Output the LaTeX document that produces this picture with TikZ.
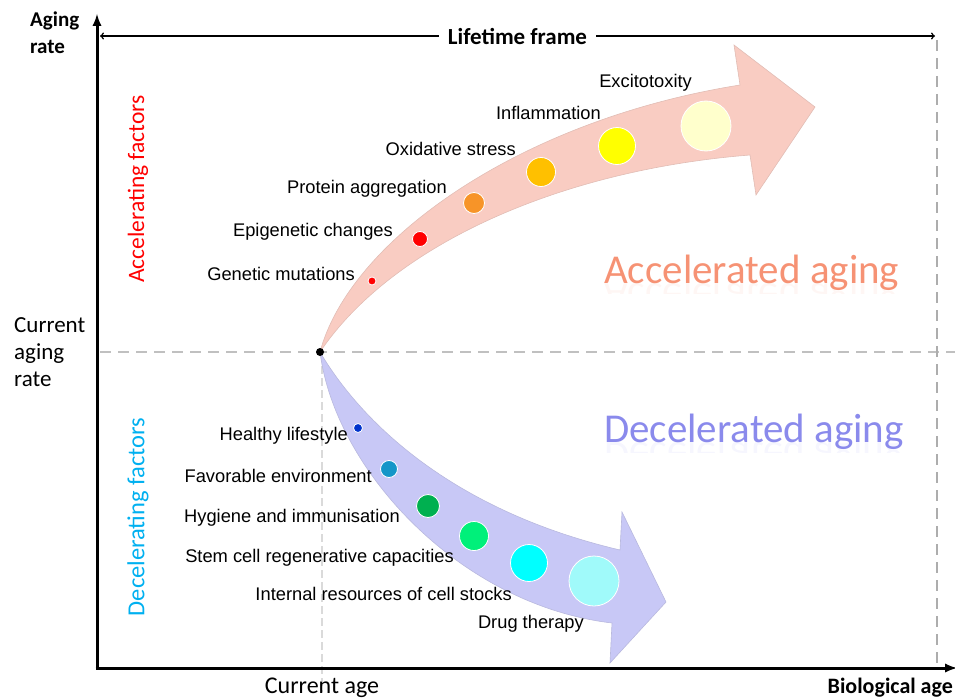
\documentclass[tikz,border=0pt]{standalone}
\usepackage{fontspec}
\setmainfont{Liberation Sans}
\newfontfamily\calib{Carlito}
\usetikzlibrary{arrows,%
                positioning}

\definecolor{accpink}{RGB}{249,204,194}
\definecolor{decblue}{RGB}{200,200,246}
\definecolor{acctext}{RGB}{246,146,116}
\definecolor{dectext}{RGB}{138,138,236}
\definecolor{guidegray}{RGB}{192,192,192}
\definecolor{lightgray}{RGB}{218,218,218}
\definecolor{officeblue}{RGB}{0,176,240}

\tikzset{
  factor/.style={font=\fontsize{18.3}{20}\selectfont, inner sep=0pt, anchor=east},
  dot/.style={circle, draw=white, line width=.8pt, inner sep=0pt},
  axis/.style={line width=3pt, -latex},
  guide/.style={guidegray, line width=2.5pt, dash pattern=on 11pt off 7pt},
  axislabel/.style={font=\calib\fontsize{23}{27}\selectfont, inner sep=0pt},
  sidelabel/.style={inner sep=0pt, rotate=90, font=\calib\fontsize{23.5}{25}\selectfont},
  bigword/.style={font=\calib\fontsize{41}{45}\selectfont, inner sep=0pt, anchor=base west},
}

\begin{document}
\begin{tikzpicture}[x=1pt,y=-1pt]
      \useasboundingbox (0,0) rectangle (955,698);

      \coordinate (corner) at (97,668);
      \coordinate (ytop) at (97,14);
      \coordinate (xend) at (957,668);
      \coordinate (now) at (320,352);

      % guide lines
      \draw[guide] (100,352) -- (955,352);
      \draw[guide, color=guidegray!90!black] (937,40) -- (937,668);
      \draw[lightgray, line width=2pt, dash pattern=on 8pt off 4pt] (322,354) -- (322,692);

      % accelerating arrow
      \filldraw[fill=accpink, draw=accpink!80!gray, line width=.6pt]
        (now) .. controls (350,240) and (520,120) .. (740,85)
        -- (734,45) -- (815,107) -- (756,195) -- (750,155)
        .. controls (560,170) and (392,245) .. (now) -- cycle;

      % decelerating arrow
      \filldraw[fill=decblue, draw=decblue!80!gray, line width=.6pt]
        (now) .. controls (360,420) and (450,510) .. (620,550)
        -- (622,512) -- (666,602) -- (610,663) -- (612,623)
        .. controls (460,605) and (335,470) .. (now) -- cycle;

      % factors that speed aging up
      \node[dot, fill=red, minimum size=8pt] (gen) at (372,281) {};
      \node[dot, fill=red, minimum size=15pt] (epi) at (420,239) {};
      \node[dot, fill={rgb,255:red,247;green,148;blue,40}, minimum size=21pt] (prot) at (474,203) {};
      \node[dot, fill={rgb,255:red,255;green,192;blue,0}, minimum size=29pt] (oxi) at (541,172) {};
      \node[dot, fill={rgb,255:red,255;green,255;blue,0}, minimum size=37pt] (infl) at (617,146) {};
      \node[dot, fill={rgb,255:red,255;green,255;blue,204}, minimum size=50pt] (exci) at (706,126) {};

      \node[factor] (genlab) at (355,274) {Genetic mutations};
      \node[factor] (epilab) at (393,232) {Epigenetic changes};
      \node[factor] (protlab) at (447,189) {Protein aggregation};
      \node[factor] (oxilab) at (516,149) {Oxidative stress};
      \node[factor] (infllab) at (601,113) {Inflammation};
      \node[factor] (excilab) at (692,83) {Excitotoxity};

      % factors that slow aging down
      \node[dot, fill={rgb,255:red,0;green,51;blue,204}, minimum size=9pt] (life) at (358,428) {};
      \node[dot, fill={rgb,255:red,20;green,150;blue,200}, minimum size=17pt] (env) at (389,469) {};
      \node[dot, fill={rgb,255:red,0;green,176;blue,80}, minimum size=23pt] (hyg) at (428,506) {};
      \node[dot, fill={rgb,255:red,0;green,240;blue,122}, minimum size=29pt] (stem) at (474,536) {};
      \node[dot, fill={rgb,255:red,0;green,255;blue,255}, minimum size=37pt] (stock) at (529,563) {};
      \node[dot, fill={rgb,255:red,160;green,250;blue,250}, minimum size=50pt] (drug) at (594,581) {};

      \node[factor] (lifelab) at (348,436) {Healthy lifestyle};
      \node[factor] (envlab) at (372,476) {Favorable environment};
      \node[factor] (hyglab) at (400,518) {Hygiene and immunisation};
      \node[factor] (stemlab) at (454,558) {Stem cell regenerative capacities};
      \node[factor] (stocklab) at (512,594) {Internal resources of cell stocks};
      \node[factor] (druglab) at (584,624) {Drug therapy};

      \fill (now) circle (4pt);

      % outcome words, with a faint mirror image under each
      \node[bigword, text=acctext] (accword) at (604,283) {Accelerated aging};
      \node[bigword, text=dectext] (decword) at (604,442) {Decelerated aging};
      \begin{scope}
        \clip (600,283) rectangle (910,293);
        \node[bigword, text=acctext, opacity=.08, yscale=-1] at (604,283) {Accelerated aging};
      \end{scope}
      \begin{scope}
        \clip (600,442) rectangle (910,452);
        \node[bigword, text=dectext, opacity=.08, yscale=-1] at (604,442) {Decelerated aging};
      \end{scope}

      \node[sidelabel, text=red] (accfac) at (138,189) {Accelerating factors};
      \node[sidelabel, text=officeblue, font=\calib\fontsize{24.5}{26}\selectfont] (decfac) at (138,517) {Decelerating factors};

      % lifetime frame
      \coordinate (lfleft) at (100,36);
      \coordinate (lfright) at (935,36);
      \draw[<->, line width=1.5pt] (lfleft) -- (lfright)
        node[midway, fill=white, inner xsep=9pt, font=\calib\bfseries\fontsize{23}{25}\selectfont] (frame) {Lifetime frame};

      % axes
      \draw[axis] (corner) -- (ytop);
      \draw[axis] (95.5,668) -- (xend);

      \node[axislabel, anchor=north west, align=left, font=\calib\bfseries\fontsize{21}{27}\selectfont] (yname) at (30,12) {Aging\\rate};
      \node[axislabel, anchor=west, align=left] (rate) at (14,352) {Current\\aging\\rate};
      \node[axislabel, font=\calib\fontsize{24}{26}\selectfont] (age) at (322,688) {Current age};
      \node[axislabel, anchor=east, font=\calib\bfseries\fontsize{22}{24}\selectfont] (bioage) at (953,688) {Biological age};
\end{tikzpicture}
\end{document}
